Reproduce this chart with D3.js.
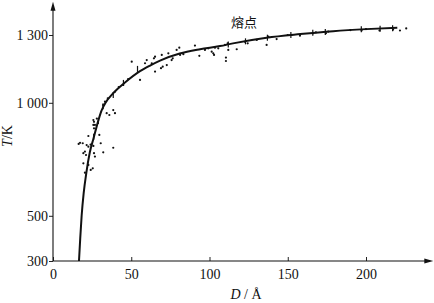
<!DOCTYPE html>
<html>
    <head>
        <meta charset="utf-8">
        <title>熔点</title>
        <style>
            body { margin: 0; background: #fff; }
            text { font-family: "Liberation Serif", "DejaVu Serif", serif; font-size: 14px; fill: #111; }
        </style>
    </head>
    <body>
        <script src="https://d3js.org/d3.v7.min.js"></script>
        <script>
            // 曲線 (D [Å], T [K])
            var curveD = [16.6, 17.4, 18.3, 19.6, 21.3, 23.5, 26, 28.5, 31, 34, 37.5, 41, 46, 55.6, 62, 68.4, 81, 94, 106.7, 115, 136.5, 158, 179, 200, 220];
            var curveT = [300, 400, 500, 600, 690, 780, 845, 910, 965, 1005, 1035, 1060, 1090, 1140, 1165, 1187, 1218, 1237, 1251, 1263, 1288, 1304, 1317, 1326, 1332];

            // 測定点
            var dotD = [26.2, 25.8, 29.6, 22.6, 17.3, 19.0, 16.4, 21.5, 22.6, 25.8, 30.5, 20.4, 19.4, 21.1, 26.2, 26.8, 32.1, 38.5, 19.4, 22.6,
                        25.4, 24.1, 20.4, 55.6, 44.9, 39.6, 33.2, 38.5, 39.6, 34.3, 36.0, 25.8, 26.8, 26.2, 59.9, 58.8, 65.2, 64.5, 69.5, 65.2,
                        70.1, 69.0, 73.7, 76.5, 75.8, 79.0, 80.7, 81.2, 83.3, 90.7, 93.5, 97.1, 99.2, 101.4, 103.5, 105.6, 102.9, 109.9, 110.5, 110.5,
                        112.0, 111.6, 117.4, 122.7, 124.4, 130.2, 136.5, 137.6, 142.9, 152.5, 157.8, 166.3, 174.4, 175.9, 197.2, 208.6, 217.3, 221.7, 225.7, 50.3,
                        63.1, 72.7, 102.4, 24, 28, 32, 35, 42, 48, 150, 168, 190, 200];
            var dotT = [916, 902, 858, 853, 823, 821, 818, 813, 806, 809, 821, 784, 777, 769, 777, 762, 781, 801, 732, 725,
                        710, 703, 691, 1101, 1079, 1049, 1005, 968, 954, 954, 946, 924, 902, 887, 1189, 1175, 1204, 1197, 1212, 1138,
                        1160, 1153, 1219, 1197, 1189, 1234, 1244, 1212, 1215, 1253, 1208, 1234, 1241, 1226, 1244, 1241, 1212, 1256, 1200, 1185,
                        1234, 1263, 1237, 1270, 1263, 1278, 1256, 1293, 1282, 1300, 1297, 1308, 1308, 1315, 1320, 1320, 1324, 1320, 1329, 1182,
                        1175, 1167, 1219, 815, 930, 990, 1020, 1070, 1105, 1300, 1312, 1322, 1326];

            // 曲線上の短い縦線
            var barD = [26, 29, 32, 38.5, 45, 54, 112, 123, 137, 152, 166, 174, 197, 209, 217];
            var barT = [850, 920, 985, 1035, 1088, 1150, 1258, 1272, 1288, 1300, 1310, 1313, 1325, 1328, 1330];

            // 目盛り
            var xTicks = [0, 50, 100, 150, 200];
            var yTicks = [300, 500, 1000, 1300];
            var yTickLabels = ["300", "500", "1 000", "1 300"];

            var width = 434;
            var height = 303;

            var svg = d3.select("body")
                .append("svg")
                .attr("width", width)
                .attr("height", height);

            var xScale = d3.scaleLinear()
                .domain([0, 200])
                .range([53, 366]);
            var yScale = d3.scaleLinear()
                .domain([300, 1300])
                .range([261, 35]);

            // x軸
            var xAxis = d3.axisBottom(xScale)
                .tickValues(xTicks)
                .tickSize(-4)
                .tickPadding(8)
                .tickFormat(d3.format("d"));
            var gx = svg.append("g")
                .attr("transform", "translate(0," + yScale(300) + ")")
                .call(xAxis);
            gx.select(".domain").remove();
            gx.selectAll("line").attr("stroke", "#222");
            gx.selectAll("text").attr("font-size", 14).attr("font-family", null).attr("fill", "#111");

            // y軸
            var yAxis = d3.axisLeft(yScale)
                .tickValues(yTicks)
                .tickSize(4)
                .tickPadding(1)
                .tickFormat(function(d, i) { return yTickLabels[i]; });
            var gy = svg.append("g")
                .attr("transform", "translate(" + xScale(0) + ",0)")
                .call(yAxis);
            gy.select(".domain").remove();
            gy.selectAll("line").attr("stroke", "#222");
            gy.selectAll("text").attr("font-size", 14).attr("font-family", null).attr("fill", "#111");

            // 軸線と矢印
            var x0 = xScale(0), y0 = yScale(300);
            var xEnd = xScale(243), yEnd = yScale(1447);
            svg.append("line")
                .attr("x1", x0).attr("y1", y0)
                .attr("x2", xEnd - 6).attr("y2", y0)
                .attr("stroke", "#111").attr("stroke-width", 1.1);
            svg.append("line")
                .attr("x1", x0).attr("y1", y0)
                .attr("x2", x0).attr("y2", yEnd + 6)
                .attr("stroke", "#111").attr("stroke-width", 1.1);
            svg.append("path")
                .attr("d", "M" + xEnd + "," + y0 + "L" + (xEnd - 9) + "," + (y0 - 2.5) + "L" + (xEnd - 9) + "," + (y0 + 2.5) + "Z")
                .attr("fill", "#111");
            svg.append("path")
                .attr("d", "M" + x0 + "," + yEnd + "L" + (x0 - 2.5) + "," + (yEnd + 9) + "L" + (x0 + 2.5) + "," + (yEnd + 9) + "Z")
                .attr("fill", "#111");

            // 曲線
            var curveData = curveD.map(function(d, i) { return {x: d, y: curveT[i]}; });
            var line = d3.line()
                .curve(d3.curveMonotoneX)
                .x(function(d) { return xScale(d.x); })
                .y(function(d) { return yScale(d.y); });
            svg.append("path")
                .datum(curveData)
                .attr("fill", "none")
                .attr("stroke", "#111")
                .attr("stroke-width", 2)
                .attr("d", line);

            // 点
            var dots = dotD.map(function(d, i) { return {x: d, y: dotT[i]}; });
            svg.append("g")
                .selectAll("circle")
                .data(dots)
                .enter()
                .append("circle")
                .attr("cx", function(d) { return xScale(d.x); })
                .attr("cy", function(d) { return yScale(d.y); })
                .attr("r", 1.1)
                .attr("fill", "#111");

            var bars = barD.map(function(d, i) { return {x: d, y: barT[i]}; });
            svg.append("g")
                .selectAll("line")
                .data(bars)
                .enter()
                .append("line")
                .attr("x1", function(d) { return xScale(d.x); })
                .attr("x2", function(d) { return xScale(d.x); })
                .attr("y1", function(d) { return yScale(d.y) - 3; })
                .attr("y2", function(d) { return yScale(d.y) + 3; })
                .attr("stroke", "#111")
                .attr("stroke-width", 1.2);

            // ラベル
            var xLabel = svg.append("text")
                .attr("x", 246)
                .attr("y", 299)
                .attr("text-anchor", "middle");
            xLabel.append("tspan").attr("font-style", "italic").text("D");
            xLabel.append("tspan").text(" / Å");

            var yLabel = svg.append("text")
                .attr("transform", "translate(12,136) rotate(-90)")
                .attr("text-anchor", "middle");
            yLabel.append("tspan").attr("font-style", "italic").text("T");
            yLabel.append("tspan").text("/K");

            svg.append("text")
                .attr("x", 244)
                .attr("y", 27)
                .attr("text-anchor", "middle")
                .style("font-family", "'Noto Sans CJK SC'")
                .style("font-size", "13px")
                .text("熔点");
        </script>
    </body>
</html>
